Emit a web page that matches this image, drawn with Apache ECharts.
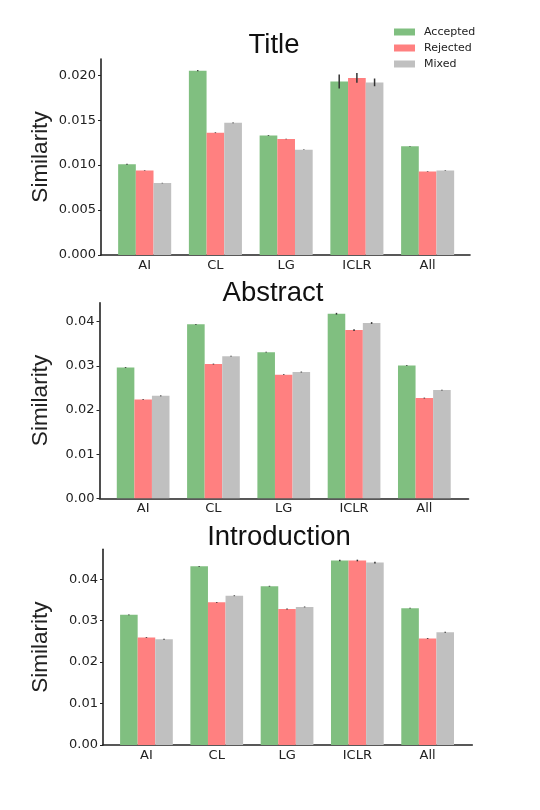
<!DOCTYPE html>
<html>
<head>
<meta charset="utf-8">
<script src="https://cdn.jsdelivr.net/npm/echarts@6/dist/echarts.min.js"></script>
<style>
  html, body { margin: 0; padding: 0; background: #fff; }
  #chart { width: 540px; height: 810px; }
</style>
</head>
<body>
<div id="chart"></div>
<script>
// data
const categories = ['AI', 'CL', 'LG', 'ICLR', 'All'];
const groupNames = ['Accepted', 'Rejected', 'Mixed'];

const titleAccepted = [0.0101, 0.0205, 0.0133, 0.0193, 0.0121];
const titleRejected = [0.0094, 0.0136, 0.0129, 0.0197, 0.0093];
const titleMixed = [0.0080, 0.0147, 0.0117, 0.0192, 0.0094];
const titleAcceptedErr = [0.00006, 0.00006, 0.00004, 0.00078, 0.00003];
const titleRejectedErr = [0.00003, 0.00004, 0.00003, 0.00054, 0.00003];
const titleMixedErr = [0.00003, 0.00004, 0.00003, 0.00043, 0.00003];

const abstractAccepted = [0.0296, 0.0394, 0.0331, 0.0418, 0.0301];
const abstractRejected = [0.0224, 0.0304, 0.0280, 0.0381, 0.0227];
const abstractMixed = [0.0232, 0.0322, 0.0286, 0.0397, 0.0245];
const abstractAcceptedErr = [0.0001, 0.0001, 0.0001, 0.0002, 0.0001];
const abstractRejectedErr = [0.0001, 0.0001, 0.0001, 0.0002, 0.0001];
const abstractMixedErr = [0.0001, 0.0001, 0.0001, 0.0002, 0.0001];

const introAccepted = [0.0314, 0.0431, 0.0383, 0.0445, 0.0330];
const introRejected = [0.0259, 0.0344, 0.0328, 0.0445, 0.0257];
const introMixed = [0.0255, 0.0360, 0.0333, 0.0440, 0.0272];
const introAcceptedErr = [0.0001, 0.0001, 0.0001, 0.0002, 0.0001];
const introRejectedErr = [0.0001, 0.0001, 0.0001, 0.0002, 0.0001];
const introMixedErr = [0.0001, 0.0001, 0.0001, 0.0002, 0.0001];

const titleTicks = [0, 0.005, 0.010, 0.015, 0.020];
const abstractTicks = [0, 0.01, 0.02, 0.03, 0.04];
const introTicks = [0, 0.01, 0.02, 0.03, 0.04];

const colors = ['#80bf80', '#ff8080', '#c0c0c0'];
const tickFont = 'DejaVu Sans';
const labelFont = 'Liberation Sans';
const ink = '#222';

// panel layout (pixels)
const panels = [
  { title: 'Title', titleX: 274, titleY: 45, top: 59, bottom: 255, axisL: 101, axisR: 470, barL: 109.3, barR: 463,
    yMax: 0.0218, ticks: titleTicks, digits: 3,
    values: [titleAccepted, titleRejected, titleMixed], errs: [titleAcceptedErr, titleRejectedErr, titleMixedErr] },
  { title: 'Abstract', titleX: 273, titleY: 293, top: 302.7, bottom: 498.3, axisL: 99.5, axisR: 468.5, barL: 108, barR: 459.5,
    yMax: 0.0443, ticks: abstractTicks, digits: 2,
    values: [abstractAccepted, abstractRejected, abstractMixed], errs: [abstractAcceptedErr, abstractRejectedErr, abstractMixedErr] },
  { title: 'Introduction', titleX: 279, titleY: 537, top: 549.3, bottom: 745, axisL: 103, axisR: 472.3, barL: 111.3, barR: 462.8,
    yMax: 0.0472, ticks: introTicks, digits: 2,
    values: [introAccepted, introRejected, introMixed], errs: [introAcceptedErr, introRejectedErr, introMixedErr] }
];

const W = 540, H = 810;
const ylabelX = 40;
const grid = [], xAxis = [], yAxis = [], series = [], title = [];

panels.forEach(function (p, i) {
  const gA = i * 2, gB = i * 2 + 1;
  // grid A holds the bars, grid B draws the spines
  grid.push({ left: p.barL, right: W - p.barR, top: p.top, bottom: H - p.bottom, outerBoundsMode: 'none' });
  grid.push({ left: p.axisL, right: W - p.axisR, top: p.top, bottom: H - p.bottom, outerBoundsMode: 'none' });

  xAxis.push({
    gridIndex: gA, type: 'category', data: categories,
    axisLine: { show: false }, axisTick: { show: false }, splitLine: { show: false },
    axisLabel: { margin: 4, color: ink, fontFamily: tickFont, fontSize: 13 }
  });
  xAxis.push({
    gridIndex: gB, type: 'value', min: 0, max: 1,
    axisLine: { show: true, lineStyle: { color: ink, width: 1.6 } },
    axisTick: { show: false }, axisLabel: { show: false }, splitLine: { show: false }
  });
  yAxis.push({
    gridIndex: gA, type: 'value', min: 0, max: p.yMax, show: false, splitLine: { show: false }
  });
  yAxis.push({
    gridIndex: gB, type: 'value', min: 0, max: p.yMax,
    name: 'Similarity', nameLocation: 'middle', nameGap: p.axisL - ylabelX - 12, nameRotate: 90,
    nameMoveOverlap: false,
    nameTextStyle: { fontFamily: labelFont, fontSize: 22.5, color: ink },
    axisLine: { show: true, lineStyle: { color: ink, width: 1.6 } },
    axisTick: { show: true, length: 3, customValues: p.ticks, lineStyle: { color: ink, width: 1 } },
    axisLabel: {
      customValues: p.ticks, margin: 5, color: ink, fontFamily: tickFont, fontSize: 13,
      formatter: function (v) { return v.toFixed(p.digits); }
    },
    splitLine: { show: false }
  });

  title.push({
    text: p.title, left: p.titleX, top: p.titleY, padding: 0,
    textAlign: 'center', textVerticalAlign: 'middle',
    textStyle: { fontFamily: labelFont, fontSize: 27.5, fontWeight: 'normal', color: '#111' }
  });

  groupNames.forEach(function (name, k) {
    series.push({
      name: name, type: 'bar', xAxisIndex: gA, yAxisIndex: gA,
      data: p.values[k], barGap: '0%', barCategoryGap: '25%',
      itemStyle: { color: colors[k] }, emphasis: { disabled: true }, animation: false
    });
  });
  groupNames.forEach(function (name, k) {
    series.push({
      type: 'custom', xAxisIndex: gA, yAxisIndex: gA, z: 5, animation: false, silent: true,
      data: p.values[k].map(function (v, j) { return [j, v, p.errs[k][j]]; }),
      renderItem: function (params, api) {
        const c = api.value(0), v = api.value(1), e = api.value(2);
        const bw = api.size([1, 0])[0] * 0.25;
        const hi = api.coord([c, v + e]);
        const lo = api.coord([c, v - e]);
        const x = hi[0] + (k - 1) * bw;
        return {
          type: 'line',
          shape: { x1: x, y1: hi[1], x2: x, y2: lo[1] },
          style: { stroke: '#333', lineWidth: 1.5 }
        };
      }
    });
  });
});

const chart = echarts.init(document.getElementById('chart'), null, { renderer: 'canvas' });
chart.setOption({
  animation: false,
  backgroundColor: '#fff',
  title: title,
  legend: {
    data: groupNames, orient: 'vertical', left: 394, top: 26.5, padding: 0,
    icon: 'rect', itemWidth: 21, itemHeight: 7, itemGap: 5,
    textStyle: { fontFamily: tickFont, fontSize: 11, color: ink, padding: [0, 0, 0, 4] }
  },
  grid: grid,
  xAxis: xAxis,
  yAxis: yAxis,
  series: series
});
</script>
</body>
</html>
